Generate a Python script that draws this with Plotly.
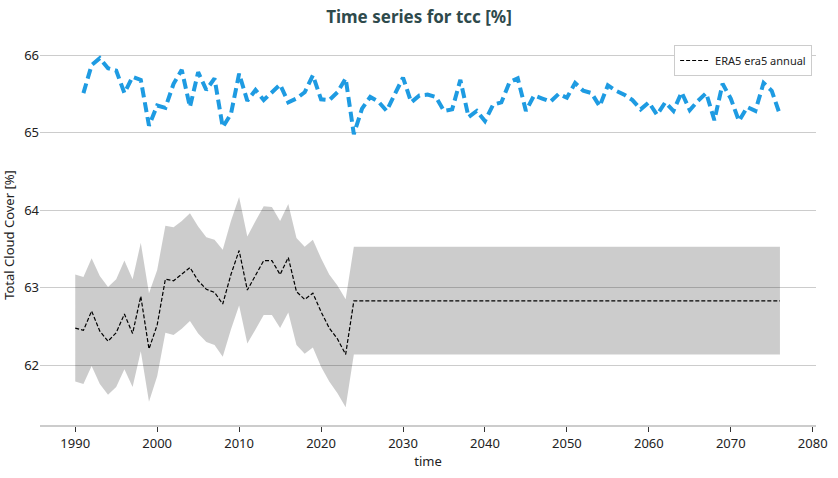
import plotly.graph_objects as go

# ERA5 annual mean and spread (observed period + flat extension)
era5_years = [1990, 1991, 1992, 1993, 1994, 1995, 1996, 1997, 1998, 1999,
              2000, 2001, 2002, 2003, 2004, 2005, 2006, 2007, 2008, 2009,
              2010, 2011, 2012, 2013, 2014, 2015, 2016, 2017, 2018, 2019,
              2020, 2021, 2022, 2023, 2024, 2076]
era5_mean = [62.48, 62.45, 62.70, 62.44, 62.31, 62.42, 62.66, 62.41, 62.89, 62.21,
             62.52, 63.11, 63.09, 63.17, 63.26, 63.09, 62.98, 62.94, 62.79, 63.17,
             63.48, 62.97, 63.17, 63.35, 63.35, 63.17, 63.39, 62.95, 62.85, 62.93,
             62.69, 62.48, 62.34, 62.14, 62.83, 62.83]
era5_upper = [63.17, 63.14, 63.38, 63.15, 63.01, 63.11, 63.35, 63.11, 63.58, 62.93,
              63.23, 63.80, 63.78, 63.86, 63.96, 63.79, 63.65, 63.62, 63.49, 63.86,
              64.17, 63.66, 63.86, 64.05, 64.04, 63.86, 64.08, 63.64, 63.53, 63.62,
              63.38, 63.17, 63.03, 62.85, 63.53, 63.53]
era5_lower = [61.79, 61.76, 61.99, 61.76, 61.62, 61.72, 61.95, 61.72, 62.18, 61.53,
              61.86, 62.42, 62.39, 62.47, 62.57, 62.41, 62.30, 62.26, 62.11, 62.46,
              62.77, 62.28, 62.46, 62.65, 62.65, 62.48, 62.68, 62.26, 62.15, 62.23,
              61.98, 61.79, 61.64, 61.46, 62.14, 62.14]

# Blue series
blue_years = list(range(1991, 2077))
blue_vals = [65.51, 65.87, 65.96, 65.83, 65.80, 65.51, 65.72, 65.68, 65.09, 65.35,
             65.32, 65.63, 65.81, 65.33, 65.78, 65.55, 65.70, 65.07, 65.24, 65.76,
             65.41, 65.55, 65.42, 65.52, 65.62, 65.39, 65.44, 65.52, 65.74, 65.43,
             65.42, 65.52, 65.70, 64.98, 65.31, 65.46, 65.40, 65.28, 65.50, 65.71,
             65.39, 65.48, 65.49, 65.46, 65.28, 65.30, 65.68, 65.20, 65.28, 65.15,
             65.36, 65.39, 65.65, 65.70, 65.28, 65.48, 65.44, 65.40, 65.50, 65.45,
             65.64, 65.54, 65.51, 65.34, 65.61, 65.54, 65.49, 65.42, 65.30, 65.39,
             65.23, 65.39, 65.28, 65.52, 65.29, 65.41, 65.51, 65.16, 65.63, 65.44,
             65.15, 65.33, 65.28, 65.64, 65.54, 65.23]

x_ticks = [1990, 2000, 2010, 2020, 2030, 2040, 2050, 2060, 2070, 2080]
y_ticks = [62, 63, 64, 65, 66]

FONT = "Noto Sans"

fig = go.Figure()

fig.add_trace(go.Scatter(
    x=era5_years, y=era5_upper, mode="lines",
    line=dict(width=0), showlegend=False, hoverinfo="skip"))
fig.add_trace(go.Scatter(
    x=era5_years, y=era5_lower, mode="lines",
    line=dict(width=0), fill="tonexty", fillcolor="rgba(0,0,0,0.2)",
    showlegend=False, hoverinfo="skip"))
fig.add_trace(go.Scatter(
    x=era5_years, y=era5_mean, mode="lines", name="ERA5 era5 annual",
    line=dict(color="black", width=1.2, dash="4px,2px")))
fig.add_trace(go.Scatter(
    x=blue_years, y=blue_vals, mode="lines", showlegend=False,
    line=dict(color="#1e9be2", width=4, dash="10px,5px")))

fig.update_layout(
    width=838, height=478,
    margin=dict(l=40, r=22, t=45, b=53),
    paper_bgcolor="white", plot_bgcolor="white",
    font=dict(family=FONT, size=13, color="#222222"),
    title=dict(text="<b>Time series for tcc [%]</b>", x=0.5, xanchor="center",
               y=0.977, yanchor="top",
               font=dict(family=FONT, size=17, color="#2e4a4c")),
    legend=dict(x=0.995, y=1.0, xanchor="right", yanchor="top",
                bgcolor="white", bordercolor="#cccccc", borderwidth=1,
                font=dict(size=11, color="#222222")),
    xaxis=dict(range=[1985.7, 2080.4], tickvals=x_ticks, automargin=False,
               showgrid=False, showline=True, linecolor="#cccccc", linewidth=2,
               ticks="outside", ticklen=5, tickcolor="#333333",
               zeroline=False,
               title=dict(text="time", standoff=6, font=dict(size=13))),
    yaxis=dict(range=[61.23, 66.13], tickvals=y_ticks, automargin=False,
               showgrid=True, gridcolor="#cccccc", gridwidth=1,
               showline=False, zeroline=False, ticks="",
               title=dict(text="Total Cloud Cover [%]", standoff=6, font=dict(size=13))),
)

fig.write_html("out.html", config={"displayModeBar": False},
               post_script="document.body.style.margin='0';")
